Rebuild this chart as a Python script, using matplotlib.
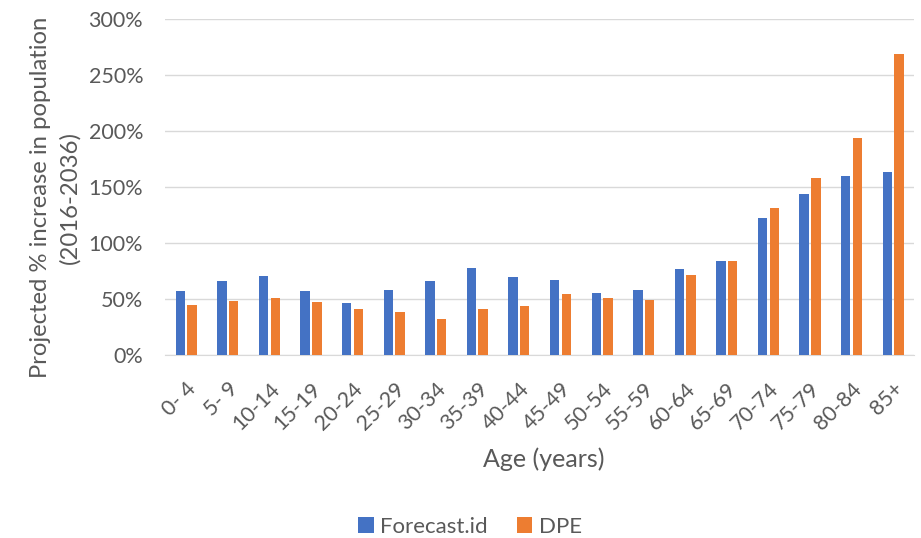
import matplotlib
matplotlib.use("Agg")
import matplotlib.pyplot as plt
import numpy as np
from matplotlib.ticker import FuncFormatter

categories = ["0- 4", "5- 9", "10-14", "15-19", "20-24", "25-29", "30-34", "35-39",
              "40-44", "45-49", "50-54", "55-59", "60-64", "65-69", "70-74", "75-79",
              "80-84", "85+"]
forecast_id = [57.3, 66.3, 70.7, 57.3, 46.6, 58.2, 66.0, 77.6, 69.6, 66.6, 55.2, 57.6,
               76.7, 83.8, 122.6, 143.5, 160.1, 163.1]
dpe = [44.8, 47.8, 51.0, 47.5, 41.2, 38.2, 32.2, 40.9, 43.9, 54.3, 51.3, 48.7,
       71.3, 83.8, 131.0, 157.7, 194.0, 269.0]
series_names = ["Forecast.id", "DPE"]

plt.rcParams['font.family'] = ['Lato', 'DejaVu Sans']
gray = "#595959"
blue = "#4472C4"
orange = "#ED7D31"

W, H = 921, 538
fig = plt.figure(figsize=(W / 100, H / 100), dpi=100)
left, right, bottom, top = 165.4, 914.0, 355.0, 19.0
ax = fig.add_axes([left / W, 1 - bottom / H, (right - left) / W, (bottom - top) / H])

x = np.arange(len(categories))
w = 0.226
gap = 0.055
ax.bar(x - w / 2 - gap / 2, forecast_id, w, color=blue, label=series_names[0], zorder=3)
ax.bar(x + w / 2 + gap / 2, dpe, w, color=orange, label=series_names[1], zorder=3)

ax.set_xlim(-0.5, len(categories) - 0.5)
ax.set_ylim(0, 300)
ax.set_yticks(np.arange(0, 301, 50))
ax.yaxis.set_major_formatter(FuncFormatter(lambda v, p: f"{int(v)}%"))
ax.grid(axis='y', color="#D9D9D9", linewidth=1, zorder=0)
for s in ["top", "right", "left"]:
    ax.spines[s].set_visible(False)
ax.spines["bottom"].set_color("#D9D9D9")
ax.tick_params(axis='both', length=0, colors=gray, labelsize=15.5)
ax.tick_params(axis='y', pad=16)
ax.tick_params(axis='x', pad=17)
ax.set_xticks(x)
ax.set_xticklabels(categories, rotation=45, ha='right', rotation_mode='anchor')

fig.text(544 / W, 1 - 459 / H, "Age (years)", color=gray, fontsize=18,
         ha='center', va='center')
fig.text(80 / W, 1 - 197 / H, "Projected % increase in population\n(2016-2036)",
         color=gray, fontsize=17.2, rotation=90, ha='center', va='bottom',
         rotation_mode='anchor', linespacing=1.45, multialignment='center')

leg = fig.legend(loc='center', bbox_to_anchor=(470 / W, 1 - 527 / H), ncol=2,
                 frameon=False, fontsize=16, handlelength=0.7, handleheight=0.7,
                 handletextpad=0.3, columnspacing=1.3, borderpad=0)
for t in leg.get_texts():
    t.set_color(gray)

fig.savefig("out.png", dpi=100)
